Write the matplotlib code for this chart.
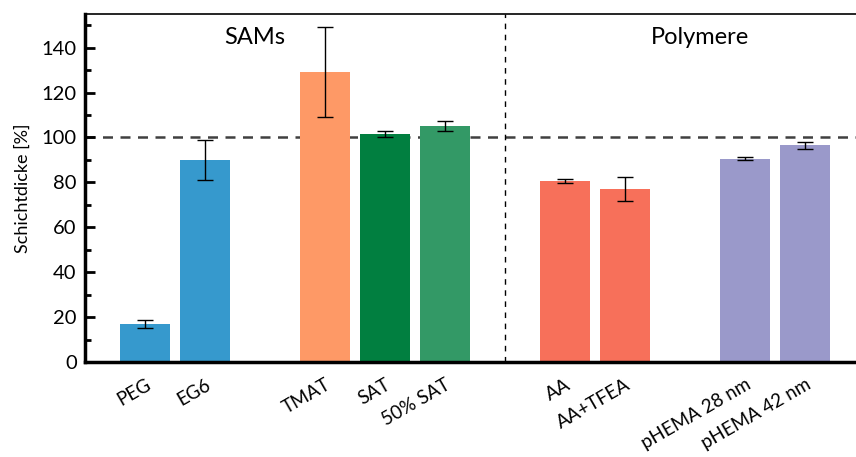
import numpy as np
import matplotlib.pyplot as plt
from matplotlib.ticker import MultipleLocator

plt.rcParams['font.family'] = ['Lato', 'DejaVu Sans']

# Data
labels = ['PEG', 'EG6', 'TMAT', 'SAT', '50% SAT', 'AA', 'AA+TFEA', 'pHEMA 28 nm', 'pHEMA 42 nm']
positions = [0, 1, 3, 4, 5, 7, 8, 10, 11]
values = [16.8, 90.0, 129.0, 101.5, 105.2, 80.6, 77.0, 90.6, 96.5]
errors = [1.8, 9.0, 20.0, 1.2, 2.2, 0.8, 5.5, 0.8, 1.6]
colors = ['#3699cd', '#3699cd', '#fe9966', '#017f40', '#339966',
          '#f7705a', '#f7705a', '#9a99ca', '#9a99ca']

fig = plt.figure(figsize=(8.56, 4.57), dpi=100)
ax = fig.add_axes([0.0993, 0.2079, 0.9007, 0.7615])

ax.bar(positions, values, width=0.82, color=colors)
ax.errorbar(positions, values, yerr=errors, fmt='none', ecolor='black',
            elinewidth=1, capsize=6, capthick=1)

# reference line and group separator
ax.axhline(100, color='#404040', lw=1.8, ls=(0, (4, 3)), zorder=0.5)
ax.axvline(6, color='black', lw=1, ls=(0, (4, 4)), zorder=0.5)

ax.text(1.83, 144.5, 'SAMs', fontsize=17, ha='center', va='center')
ax.text(9.25, 144.5, 'Polymere', fontsize=17, ha='center', va='center')

ax.set_xlim(-1, 11.85)
ax.set_ylim(0, 155)
ax.yaxis.set_major_locator(MultipleLocator(20))
ax.yaxis.set_minor_locator(MultipleLocator(10))
ax.set_xticks(positions)
ax.set_xticklabels(labels, rotation=30, ha='right', rotation_mode='anchor', fontsize=13.5)
ax.tick_params(axis='x', length=0, pad=10)
ax.tick_params(axis='y', which='major', direction='in', length=7, width=2, labelsize=14.5, pad=6)
ax.tick_params(axis='y', which='minor', direction='in', length=4, width=2)
ax.set_ylabel('Schichtdicke [%]', fontsize=13, labelpad=8)

ax.spines['left'].set_linewidth(2.5)
ax.spines['bottom'].set_linewidth(2.5)
ax.spines['top'].set_linewidth(1.2)
ax.spines['right'].set_visible(False)

fig.savefig('out.png', dpi=100)
